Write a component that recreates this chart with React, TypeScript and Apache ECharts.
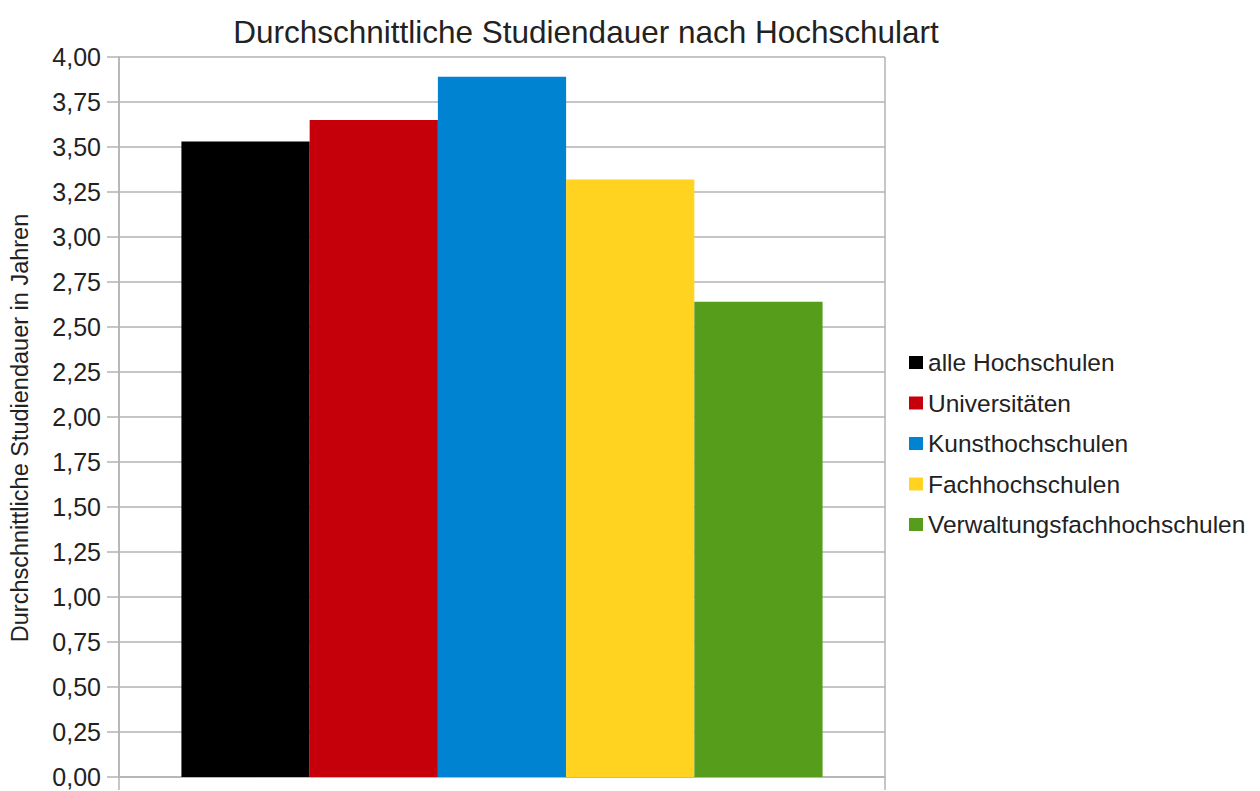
import React, { useEffect, useRef } from "react";
import * as echarts from "echarts";

const categories = [""];
const seriesNames = [
  "alle Hochschulen",
  "Universitäten",
  "Kunsthochschulen",
  "Fachhochschulen",
  "Verwaltungsfachhochschulen",
];
const seriesValues = [3.53, 3.65, 3.89, 3.32, 2.64];
const seriesColors = ["#000000", "#c5000b", "#0084d1", "#ffd320", "#579d1c"];
const yMin = 0;
const yMax = 4;
const yInterval = 0.25;

const FONT = "'Liberation Sans', Arial, sans-serif";
const GRID = "#b3b3b3";

export default function App() {
  const ref = useRef<HTMLDivElement>(null);

  useEffect(() => {
    if (!ref.current) return;
    const chart = echarts.init(ref.current, undefined, { renderer: "svg" });
    chart.setOption({
      animation: false,
      backgroundColor: "#ffffff",
      textStyle: { fontFamily: FONT },
      title: {
        text: "Durchschnittliche Studiendauer nach Hochschulart",
        left: 581,
        top: 11,
        textAlign: "center",
        textStyle: { fontFamily: FONT, fontSize: 31.5, fontWeight: "normal", color: "#222222" },
      },
      grid: { left: 115, right: 375, top: 57, bottom: 14, containLabel: false },
      legend: {
        orient: "vertical",
        left: 904,
        top: 345,
        icon: "rect",
        itemWidth: 14,
        itemHeight: 13,
        itemGap: 15.5,
        textStyle: { fontFamily: FONT, fontSize: 24.5, color: "#222222" },
        data: seriesNames,
      },
      xAxis: {
        type: "category",
        data: categories,
        boundaryGap: true,
        axisLine: { show: true, lineStyle: { color: GRID, width: 1.5 } },
        axisTick: { show: true, length: 13, lineStyle: { color: GRID, width: 1.5 } },
        axisLabel: { show: false },
        splitLine: { show: true, lineStyle: { color: GRID, width: 1.5 } },
      },
      yAxis: {
        type: "value",
        min: yMin,
        max: yMax,
        interval: yInterval,
        name: "Durchschnittliche Studiendauer in Jahren",
        nameLocation: "middle",
        nameGap: 87,
        nameTextStyle: { fontFamily: FONT, fontSize: 23.5, color: "#222222", padding: [0, 22, 0, 0] },
        axisLine: { show: true, lineStyle: { color: GRID, width: 1.5 } },
        axisTick: { show: true, length: 12, lineStyle: { color: GRID, width: 1.5 } },
        axisLabel: {
          margin: 18,
          fontFamily: FONT,
          fontSize: 25,
          color: "#222222",
          formatter: (v: number) => v.toFixed(2).replace(".", ","),
        },
        splitLine: { show: true, lineStyle: { color: GRID, width: 1.5 } },
      },
      series: seriesNames.map((name, i) => ({
        name,
        type: "bar",
        data: [seriesValues[i]],
        barGap: "0%",
        barCategoryGap: "16.3%",
        itemStyle: { color: seriesColors[i] },
      })),
    });
    return () => chart.dispose();
  }, []);

  return (
    <div
      ref={ref}
      style={{ position: "fixed", left: 0, top: 0, width: 1260, height: 791 }}
    />
  );
}
